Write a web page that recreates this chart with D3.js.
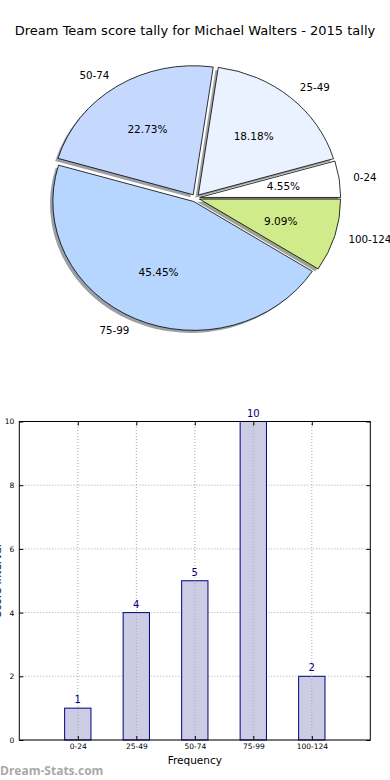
<!DOCTYPE html>
<html>
<head>
<meta charset="utf-8">
<script src="https://cdn.jsdelivr.net/npm/d3@7"></script>
<style>
  body { margin: 0; background: #fff; }
  svg { display: block; font-family: "DejaVu Sans", sans-serif; }
</style>
</head>
<body>
<div id="chart"></div>
<script>
// score bands and how many games fell in each
const categories = ["0-24", "25-49", "50-74", "75-99", "100-124"];
const counts = [1, 4, 5, 10, 2];
const pieColors = ["#ffffff", "#eaf1ff", "#c5d9ff", "#b6d6ff", "#d0eb8a"];
const yTicks = [0, 2, 4, 6, 8, 10];

const width = 390, height = 780;

const svg = d3.select("#chart").append("svg")
    .attr("width", width)
    .attr("height", height);

svg.append("text")
    .attr("x", 195).attr("y", 35)
    .attr("text-anchor", "middle")
    .attr("font-size", "13px")
    .text("Dream Team score tally for Michael Walters - 2015 tally");

// ---- pie (matplotlib style: starts east, counter-clockwise, slightly exploded) ----
const cx = 195.5, cy = 198, rx = 141, ry = 129;
const explode = 0.03;
const total = d3.sum(counts);

const pie = d3.pie().sort(null)
    .startAngle(Math.PI / 2)
    .endAngle(Math.PI / 2 - 2 * Math.PI);
const arcs = pie(counts);
const arc = d3.arc().innerRadius(0).outerRadius(1);

function mid(d) { return (d.startAngle + d.endAngle) / 2; }
function offX(d, k) { return k * rx * Math.sin(mid(d)); }
function offY(d, k) { return -k * ry * Math.cos(mid(d)); }

const pieG = svg.append("g");

// shadows under everything
pieG.selectAll("path.shadow")
  .data(arcs)
  .enter().append("path")
    .attr("class", "shadow")
    .attr("d", arc)
    .attr("transform", d => "translate(" + (cx + offX(d, explode) - 0.02 * rx) + "," + (cy + offY(d, explode) + 0.02 * ry) + ") scale(" + rx + "," + ry + ")")
    .attr("fill", (d, i) => { const c = d3.rgb(pieColors[i]); return d3.rgb(c.r * 0.3, c.g * 0.3, c.b * 0.3); })
    .attr("opacity", 0.5);

pieG.selectAll("path.wedge")
  .data(arcs)
  .enter().append("path")
    .attr("class", "wedge")
    .attr("d", arc)
    .attr("transform", d => "translate(" + (cx + offX(d, explode)) + "," + (cy + offY(d, explode)) + ") scale(" + rx + "," + ry + ")")
    .attr("fill", (d, i) => pieColors[i])
    .attr("stroke", "#000")
    .attr("stroke-width", 0.8)
    .attr("vector-effect", "non-scaling-stroke");

// outer labels
pieG.selectAll("text.lbl")
  .data(arcs)
  .enter().append("text")
    .attr("class", "lbl")
    .attr("x", d => cx + offX(d, explode + 1.1))
    .attr("y", d => cy + offY(d, explode + 1.1))
    .attr("dy", "0.35em")
    .attr("text-anchor", d => Math.sin(mid(d)) > 0 ? "start" : "end")
    .attr("font-size", "10.3px")
    .text((d, i) => categories[i]);

// percentages
pieG.selectAll("text.pct")
  .data(arcs)
  .enter().append("text")
    .attr("class", "pct")
    .attr("x", d => cx + offX(d, explode + 0.6))
    .attr("y", d => cy + offY(d, explode + 0.6))
    .attr("dy", "0.35em")
    .attr("text-anchor", "middle")
    .attr("font-size", "10.5px")
    .text(d => (d.value / total * 100).toFixed(2) + "%");

// ---- bar chart ----
const x = d3.scaleLinear().domain([-1, 5]).range([19.3, 370.3]);
const y = d3.scaleLinear().domain([0, 10]).range([740, 421.5]);
const barW = 0.45;
const idx = categories.map((c, i) => i);

const barG = svg.append("g");

// dotted grid
barG.selectAll("line.gx")
  .data(idx)
  .enter().append("line")
    .attr("x1", d => x(d)).attr("x2", d => x(d))
    .attr("y1", y(0)).attr("y2", y(10))
    .attr("stroke", "#a8a8a8").attr("stroke-dasharray", "1,2");
barG.selectAll("line.gy")
  .data(yTicks)
  .enter().append("line")
    .attr("x1", x(-1)).attr("x2", x(5))
    .attr("y1", d => y(d)).attr("y2", d => y(d))
    .attr("stroke", "#a8a8a8").attr("stroke-dasharray", "1,2");

barG.selectAll("rect.bar")
  .data(counts)
  .enter().append("rect")
    .attr("x", (d, i) => x(i - barW / 2))
    .attr("y", d => y(d))
    .attr("width", x(barW) - x(0))
    .attr("height", d => y(0) - y(d))
    .attr("fill", "#ccccE4")
    .attr("stroke", "#000080")
    .attr("stroke-width", 1);

// dotted grid shows through the translucent bars
barG.selectAll("line.gx2")
  .data(idx)
  .enter().append("line")
    .attr("x1", d => x(d)).attr("x2", d => x(d))
    .attr("y1", y(0)).attr("y2", d => y(counts[d]))
    .attr("stroke", "#a8a8b8").attr("stroke-dasharray", "1,2");

barG.selectAll("text.val")
  .data(counts)
  .enter().append("text")
    .attr("x", (d, i) => x(i))
    .attr("y", d => y(d) - 5)
    .attr("text-anchor", "middle")
    .attr("font-size", "10px")
    .attr("fill", "#000080")
    .text(d => d);

// axes, ticks pointing inward
const xAxis = d3.axisBottom(x).tickValues(idx).tickFormat(i => categories[i]).tickSize(-4).tickPadding(4);
const yAxis = d3.axisLeft(y).tickValues(yTicks).tickSize(-4).tickPadding(5);

barG.append("g").attr("transform", "translate(0," + y(0) + ")").call(xAxis);
barG.append("g").attr("transform", "translate(" + x(-1) + ",0)").call(yAxis);
barG.append("g").attr("transform", "translate(0," + y(10) + ")")
    .call(d3.axisTop(x).tickValues(idx).tickFormat("").tickSize(-4));
barG.append("g").attr("transform", "translate(" + x(5) + ",0)")
    .call(d3.axisRight(y).tickValues(yTicks).tickFormat("").tickSize(-4));

barG.selectAll(".domain").remove();
barG.selectAll(".tick text").attr("font-size", "7.5px").attr("font-family", "DejaVu Sans");

barG.append("rect")
    .attr("x", x(-1)).attr("y", y(10))
    .attr("width", x(5) - x(-1)).attr("height", y(0) - y(10))
    .attr("fill", "none").attr("stroke", "#000").attr("stroke-width", 1);

svg.append("text")
    .attr("x", (x(-1) + x(5)) / 2).attr("y", 764)
    .attr("text-anchor", "middle")
    .attr("font-size", "10.5px")
    .text("Frequency");

// y label sits mostly beyond the left edge, as in the source image
svg.append("text")
    .attr("transform", "translate(1," + ((y(0) + y(10)) / 2) + ") rotate(-90)")
    .attr("text-anchor", "middle")
    .attr("font-size", "10.5px")
    .text("Score Interval");

svg.append("text")
    .attr("x", 0).attr("y", 775)
    .attr("font-family", "Open Sans, sans-serif")
    .attr("font-weight", "bold")
    .attr("font-size", "12px")
    .attr("fill", "#a9a9a9")
    .text("Dream-Stats.com");
</script>
</body>
</html>
